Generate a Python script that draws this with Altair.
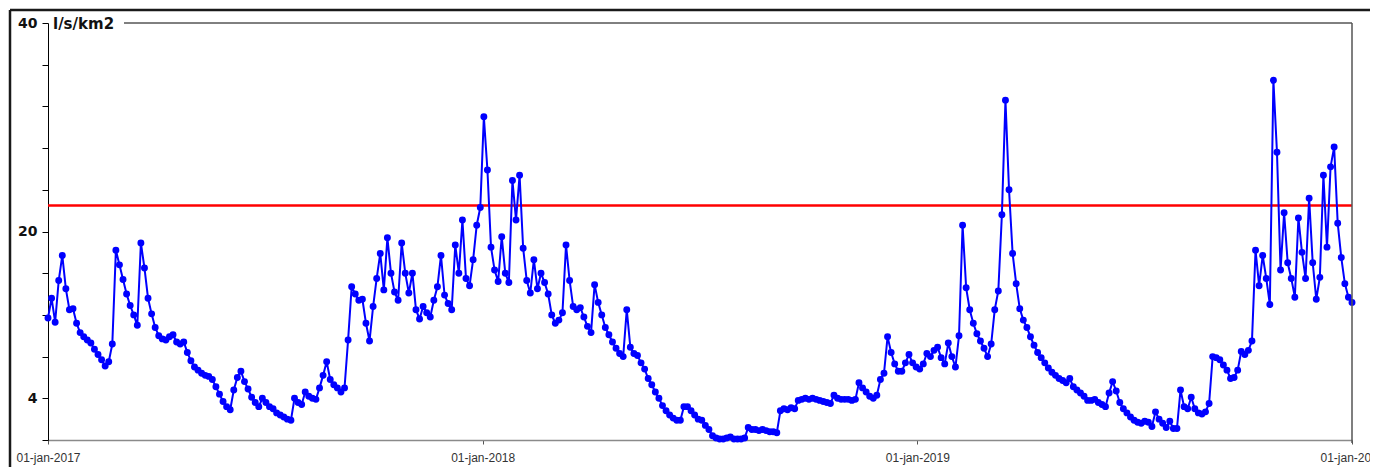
import altair as alt
import pandas as pd

# ---- data (one value every 3 days from 01-jan-2017) ----
start_date = "2017-01-01"
step_days = 3
discharge = [
    11.7, 13.6, 11.3, 15.3, 17.7, 14.5, 12.5, 12.6, 11.2, 10.3,
    9.9, 9.6, 9.3, 8.7, 8.2, 7.7, 7.1, 7.5, 9.2, 18.2,
    16.8, 15.4, 14.0, 12.9, 12.0, 11.0, 18.9, 16.5, 13.6, 12.1,
    10.8, 10.0, 9.7, 9.6, 9.9, 10.1, 9.4, 9.2, 9.4, 8.4,
    7.6, 7.0, 6.7, 6.4, 6.2, 6.1, 5.8, 5.1, 4.4, 3.7,
    3.2, 2.9, 4.8, 6.0, 6.6, 5.6, 4.9, 4.1, 3.6, 3.2,
    4.0, 3.6, 3.2, 3.0, 2.6, 2.4, 2.2, 2.0, 1.9, 4.0,
    3.6, 3.4, 4.6, 4.2, 4.0, 3.9, 5.0, 6.2, 7.5, 5.8,
    5.3, 5.0, 4.6, 5.0, 9.6, 14.7, 14.0, 13.4, 13.5, 11.2,
    9.5, 12.8, 15.5, 17.9, 14.4, 19.4, 16.0, 14.2, 13.4, 18.9,
    16.0, 14.1, 16.0, 12.5, 11.6, 12.8, 12.2, 11.8, 13.4, 14.7,
    17.7, 13.9, 13.1, 12.5, 18.7, 16.0, 21.1, 15.5, 14.8, 17.3,
    20.6, 22.3, 31.0, 25.9, 18.5, 16.3, 15.2, 19.5, 16.0, 15.1,
    24.9, 21.1, 25.4, 18.4, 15.3, 14.1, 17.3, 14.5, 16.0, 15.1,
    14.0, 12.0, 11.2, 11.5, 12.2, 18.7, 15.3, 12.8, 12.5, 12.7,
    11.8, 10.9, 10.3, 14.9, 13.2, 12.0, 10.8, 10.1, 9.4, 8.8,
    8.3, 8.0, 12.5, 8.9, 8.3, 8.1, 7.4, 6.8, 5.9, 5.3,
    4.6, 4.0, 3.3, 2.8, 2.4, 2.1, 1.9, 1.9, 3.2, 3.2,
    2.8, 2.4, 2.0, 1.9, 1.4, 1.0, 0.4, 0.2, 0.1, 0.1,
    0.2, 0.3, 0.1, 0.1, 0.1, 0.2, 1.2, 1.0, 1.0, 0.9,
    1.0, 0.9, 0.8, 0.8, 0.7, 2.8, 3.0, 2.9, 3.1, 3.0,
    3.8, 3.9, 4.0, 3.9, 4.0, 3.9, 3.8, 3.7, 3.6, 3.5,
    4.3, 4.0, 3.9, 3.9, 3.9, 3.8, 3.9, 5.5, 5.0, 4.6,
    4.2, 4.0, 4.3, 5.8, 6.4, 9.9, 8.4, 7.3, 6.6, 6.6,
    7.4, 8.2, 7.4, 7.0, 6.8, 7.3, 8.3, 8.0, 8.6, 8.9,
    7.9, 7.3, 9.3, 8.0, 7.0, 10.0, 20.6, 14.6, 12.5, 11.2,
    10.2, 9.5, 8.8, 8.0, 9.2, 12.5, 14.3, 21.6, 32.6, 24.0,
    17.9, 15.0, 12.6, 11.5, 10.8, 9.9, 9.1, 8.4, 7.9, 7.4,
    6.9, 6.5, 6.2, 5.9, 5.7, 5.5, 5.9, 5.1, 4.8, 4.5,
    4.2, 3.8, 3.8, 3.9, 3.6, 3.4, 3.2, 4.5, 5.6, 4.7,
    3.6, 3.0, 2.6, 2.2, 1.9, 1.7, 1.6, 1.8, 1.7, 1.3,
    2.7, 2.0, 1.6, 1.2, 1.8, 1.1, 1.1, 4.8, 3.2, 3.0,
    4.1, 3.0, 2.6, 2.5, 2.7, 3.5, 8.0, 7.9, 7.7, 7.2,
    6.7, 5.9, 6.0, 6.7, 8.5, 8.2, 8.6, 9.5, 18.2, 14.8,
    17.7, 15.5, 13.0, 34.5, 27.6, 16.3, 21.8, 17.0, 15.5, 13.7,
    21.3, 18.0, 15.5, 23.2, 17.0, 13.5, 15.6, 25.4, 18.5, 26.2,
    28.1, 20.8, 17.5, 15.0, 13.7, 13.2,
]
threshold = 22.5
y_tick_values = [0, 4, 8, 12, 16, 20, 24, 28, 32, 36, 40]
y_labelled = [4, 20, 40]
x_tick_years = [2017, 2018, 2019, 2020]
unit_label = "l/s/km2"

dates = pd.date_range(start_date, periods=len(discharge), freq=f"{step_days}D").strftime("%Y-%m-%d")
df = pd.DataFrame({"date": dates, "q": discharge})

W, H = 1304, 417
one = pd.DataFrame({"k": [0]})

x_enc = alt.X(
    "date:T",
    scale=alt.Scale(
        type="utc",
        domain=[alt.DateTime(year=x_tick_years[0], month=1, date=1, utc=True),
                alt.DateTime(year=x_tick_years[-1], month=1, date=1, utc=True)],
    ),
    axis=alt.Axis(
        values=[alt.DateTime(year=y, month=1, date=1, utc=True) for y in x_tick_years],
        labelExpr="lower(utcFormat(datum.value, '%d-%b-%Y'))",
        title=None, grid=False,
        domainColor="#8a8a8a", domainWidth=1.5,
        tickColor="#555555", tickSize=4,
        labelFont="Liberation Sans", labelFontSize=12, labelColor="#333333",
        labelPadding=8, labelOverlap=False, labelFlush=False, labelBound=False,
    ),
)

cond = " || ".join(f"datum.value == {v}" for v in y_labelled)
y_enc = alt.Y(
    "q:Q",
    scale=alt.Scale(domain=[0, 40], nice=False, zero=True),
    axis=alt.Axis(
        values=y_tick_values,
        labelExpr=f"({cond}) ? datum.label : ''",
        title=None, grid=False,
        domainColor="black", domainWidth=1,
        tickColor="black", tickSize=6,
        labelFont="DejaVu Sans", labelFontWeight="bold", labelFontSize=14,
        labelColor="#111111", labelPadding=5,
    ),
)

base = alt.Chart(df).encode(x=x_enc, y=y_enc)
line = base.mark_line(color="#0000FF", strokeWidth=2)
points = base.mark_point(filled=True, size=48, color="#0000FF", opacity=1)

red = alt.Chart(one).mark_rule(color="#FF0000", strokeWidth=2.5).encode(y=alt.datum(threshold))

top_frame = alt.Chart(one).mark_rule(color="black", strokeWidth=1).encode(
    x=alt.value(76), x2=alt.value(W), y=alt.value(0))
right_frame = alt.Chart(one).mark_rule(color="#555555", strokeWidth=1.5).encode(
    x=alt.value(W), y=alt.value(0), y2=alt.value(H + 3))
outer_left = alt.Chart(one).mark_rule(color="#1a1a1a", strokeWidth=2.5).encode(
    x=alt.value(-38), y=alt.value(-13), y2=alt.value(H + 60))
outer_top = alt.Chart(one).mark_rule(color="#1a1a1a", strokeWidth=2.5).encode(
    x=alt.value(-38), x2=alt.value(W + 80), y=alt.value(-13))
unit_text = alt.Chart(one).mark_text(
    text=unit_label, align="left", baseline="middle", font="DejaVu Sans",
    fontWeight="bold", fontSize=15, color="#111111").encode(
    x=alt.value(5), y=alt.value(1))

chart = alt.layer(
    red, line, points, top_frame, right_frame, outer_left, outer_top, unit_text
).properties(
    width=W, height=H,
    padding={"left": 40, "top": 15, "right": 18, "bottom": 27},
    autosize=alt.AutoSizeParams(type="none"),
    background="white",
).configure_view(stroke=None)

chart.save("out.html", embed_options={"renderer": "svg", "actions": False})
